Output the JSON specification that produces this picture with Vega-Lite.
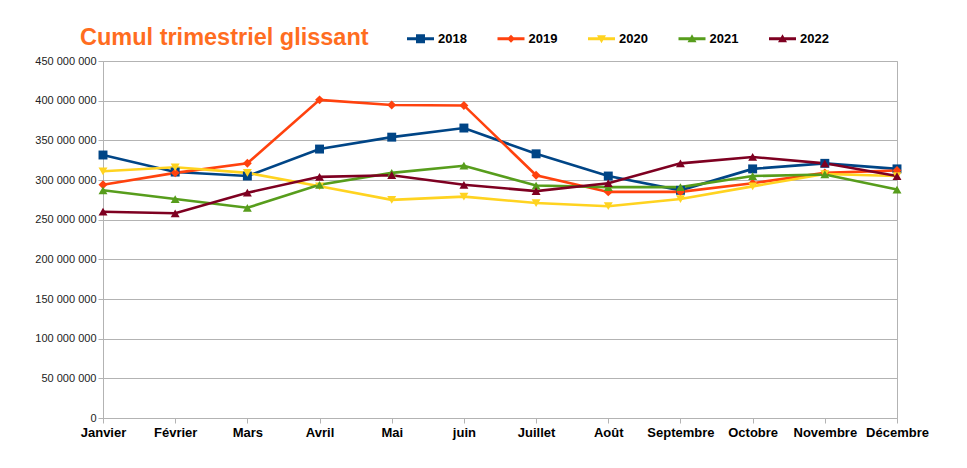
{
  "$schema": "https://vega.github.io/schema/vega-lite/v6.json",
  "width": 794,
  "height": 357,
  "autosize": {"type": "none"},
  "padding": {"left": 103, "top": 61, "right": 70, "bottom": 50},
  "background": "white",
  "config": {
    "font": "Liberation Sans",
    "view": {"stroke": "#b3b3b3", "strokeWidth": 1},
    "locale": {"number": {"decimal": ",", "thousands": " ", "grouping": [3], "currency": ["", ""]}},
    "axis": {"domainColor": "#b3b3b3", "tickColor": "#b3b3b3", "gridColor": "#b3b3b3", "labelColor": "#000000"}
  },
  "title": {
    "text": "Cumul trimestriel glissant",
    "anchor": "start",
    "frame": "group",
    "orient": "top",
    "fontSize": 23.5,
    "fontWeight": "bold",
    "color": "#ff6d1f",
    "dx": -23,
    "dy": 27,
    "offset": 10
  },
  "data": {
    "values": [
      {"mois": "Janvier", "annee": "2018", "valeur": 331500000},
      {"mois": "Février", "annee": "2018", "valeur": 310000000},
      {"mois": "Mars", "annee": "2018", "valeur": 305000000},
      {"mois": "Avril", "annee": "2018", "valeur": 339000000},
      {"mois": "Mai", "annee": "2018", "valeur": 354000000},
      {"mois": "juin", "annee": "2018", "valeur": 365500000},
      {"mois": "Juillet", "annee": "2018", "valeur": 333000000},
      {"mois": "Août", "annee": "2018", "valeur": 305000000},
      {"mois": "Septembre", "annee": "2018", "valeur": 287000000},
      {"mois": "Octobre", "annee": "2018", "valeur": 314000000},
      {"mois": "Novembre", "annee": "2018", "valeur": 321000000},
      {"mois": "Décembre", "annee": "2018", "valeur": 314000000},

      {"mois": "Janvier", "annee": "2019", "valeur": 294000000},
      {"mois": "Février", "annee": "2019", "valeur": 309000000},
      {"mois": "Mars", "annee": "2019", "valeur": 321000000},
      {"mois": "Avril", "annee": "2019", "valeur": 401000000},
      {"mois": "Mai", "annee": "2019", "valeur": 394500000},
      {"mois": "juin", "annee": "2019", "valeur": 394000000},
      {"mois": "Juillet", "annee": "2019", "valeur": 306000000},
      {"mois": "Août", "annee": "2019", "valeur": 285000000},
      {"mois": "Septembre", "annee": "2019", "valeur": 285000000},
      {"mois": "Octobre", "annee": "2019", "valeur": 296000000},
      {"mois": "Novembre", "annee": "2019", "valeur": 309000000},
      {"mois": "Décembre", "annee": "2019", "valeur": 312000000},

      {"mois": "Janvier", "annee": "2020", "valeur": 311000000},
      {"mois": "Février", "annee": "2020", "valeur": 316000000},
      {"mois": "Mars", "annee": "2020", "valeur": 309000000},
      {"mois": "Avril", "annee": "2020", "valeur": 292000000},
      {"mois": "Mai", "annee": "2020", "valeur": 275000000},
      {"mois": "juin", "annee": "2020", "valeur": 279000000},
      {"mois": "Juillet", "annee": "2020", "valeur": 271000000},
      {"mois": "Août", "annee": "2020", "valeur": 267000000},
      {"mois": "Septembre", "annee": "2020", "valeur": 276000000},
      {"mois": "Octobre", "annee": "2020", "valeur": 292000000},
      {"mois": "Novembre", "annee": "2020", "valeur": 307500000},
      {"mois": "Décembre", "annee": "2020", "valeur": 305000000},

      {"mois": "Janvier", "annee": "2021", "valeur": 287000000},
      {"mois": "Février", "annee": "2021", "valeur": 276000000},
      {"mois": "Mars", "annee": "2021", "valeur": 265000000},
      {"mois": "Avril", "annee": "2021", "valeur": 294000000},
      {"mois": "Mai", "annee": "2021", "valeur": 309000000},
      {"mois": "juin", "annee": "2021", "valeur": 318000000},
      {"mois": "Juillet", "annee": "2021", "valeur": 293000000},
      {"mois": "Août", "annee": "2021", "valeur": 291000000},
      {"mois": "Septembre", "annee": "2021", "valeur": 291000000},
      {"mois": "Octobre", "annee": "2021", "valeur": 305000000},
      {"mois": "Novembre", "annee": "2021", "valeur": 307000000},
      {"mois": "Décembre", "annee": "2021", "valeur": 288000000},

      {"mois": "Janvier", "annee": "2022", "valeur": 260000000},
      {"mois": "Février", "annee": "2022", "valeur": 258000000},
      {"mois": "Mars", "annee": "2022", "valeur": 284000000},
      {"mois": "Avril", "annee": "2022", "valeur": 304000000},
      {"mois": "Mai", "annee": "2022", "valeur": 306000000},
      {"mois": "juin", "annee": "2022", "valeur": 294000000},
      {"mois": "Juillet", "annee": "2022", "valeur": 286000000},
      {"mois": "Août", "annee": "2022", "valeur": 296000000},
      {"mois": "Septembre", "annee": "2022", "valeur": 321000000},
      {"mois": "Octobre", "annee": "2022", "valeur": 329000000},
      {"mois": "Novembre", "annee": "2022", "valeur": 321000000},
      {"mois": "Décembre", "annee": "2022", "valeur": 305000000}
    ]
  },
  "encoding": {
    "x": {
      "field": "mois",
      "type": "ordinal",
      "sort": ["Janvier", "Février", "Mars", "Avril", "Mai", "juin", "Juillet", "Août", "Septembre", "Octobre", "Novembre", "Décembre"],
      "scale": {"type": "point", "padding": 0},
      "axis": {
        "title": null,
        "labelAngle": 0,
        "labelFontSize": 13,
        "labelFontWeight": "bold",
        "labelColor": "#000000",
        "tickSize": 5,
        "labelPadding": 3,
        "grid": false
      }
    },
    "y": {
      "field": "valeur",
      "type": "quantitative",
      "scale": {"domain": [0, 450000000], "nice": false},
      "axis": {
        "title": null,
        "values": [0, 50000000, 100000000, 150000000, 200000000, 250000000, 300000000, 350000000, 400000000, 450000000],
        "format": ",d",
        "labelFontSize": 11,
        "labelColor": "#222222",
        "tickSize": 5,
        "labelPadding": 2,
        "grid": true
      }
    }
  },
  "layer": [
    {
      "mark": {"type": "line", "strokeWidth": 2.6},
      "encoding": {
        "color": {
          "field": "annee",
          "type": "nominal",
          "scale": {"domain": ["2018", "2019", "2020", "2021", "2022"], "range": ["#004586", "#ff420e", "#ffd320", "#579d1c", "#7e0021"]},
          "legend": {
            "title": null,
            "orient": "none",
            "direction": "horizontal",
            "legendX": 311,
            "legendY": -29,
            "padding": 0,
            "labelFontSize": 13,
            "labelFontWeight": "bold",
            "labelColor": "#000000",
            "labelOffset": 11,
            "columnPadding": 30.5,
            "symbolSize": 100,
            "encode": {
              "symbols": {
                "update": {
                  "shape": {"signal": "datum.value == '2018' ? 'M-2.7,-0.28H2.7V0.28H-2.7ZM-0.9,-0.9H0.9V0.9H-0.9Z' : datum.value == '2019' ? 'M-2.7,-0.28H2.7V0.28H-2.7ZM0,-0.8L0.8,0L0,0.8L-0.8,0Z' : datum.value == '2020' ? 'M-2.7,-0.28H2.7V0.28H-2.7ZM-0.9,-0.7H0.9L0,0.9Z' : 'M-2.7,-0.28H2.7V0.28H-2.7ZM-0.9,0.7L0,-0.9L0.9,0.7Z'"},
                  "stroke": {"value": "transparent"},
                  "fill": {"signal": "scale('color', datum.value)"},
                  "strokeWidth": {"value": 0},
                  "opacity": {"value": 1},
                  "fillOpacity": {"value": 1}
                }
              }
            }
          }
        }
      }
    },
    {
      "mark": {"type": "point", "filled": true, "opacity": 1, "size": 80},
      "encoding": {
        "color": {"field": "annee", "type": "nominal", "legend": null},
        "shape": {
          "field": "annee",
          "type": "nominal",
          "scale": {"domain": ["2022", "2021", "2020", "2019", "2018"], "range": ["triangle-up", "triangle-up", "triangle-down", "diamond", "square"]},
          "legend": null
        }
      }
    }
  ]
}
